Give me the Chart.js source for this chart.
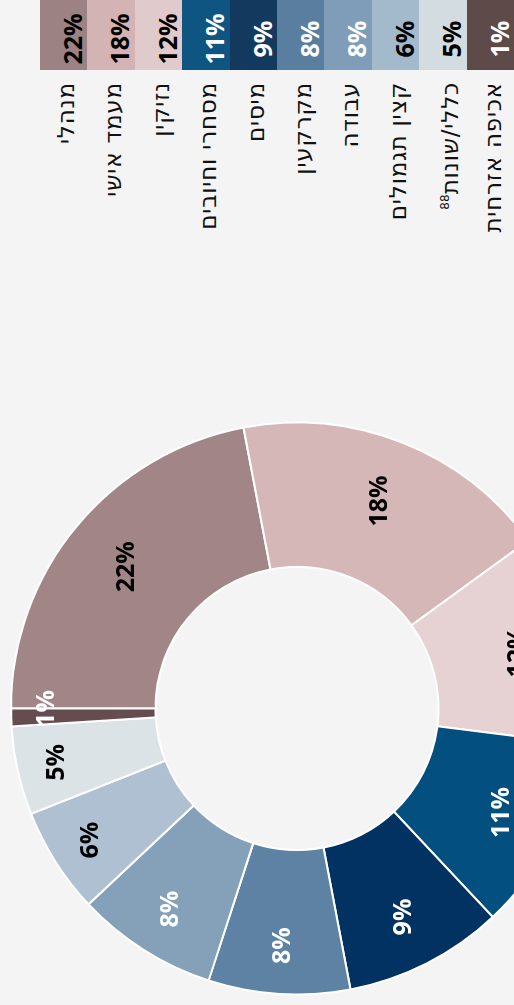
<!DOCTYPE html>
<html>
<head>
<meta charset="utf-8">
<script src="https://cdn.jsdelivr.net/npm/chart.js@4.4.1/dist/chart.umd.min.js"></script>
<style>
    html, body { margin: 0; padding: 0; background: #f4f4f4; width: 514px; height: 1005px; overflow: hidden; }
    /* the chart is laid out landscape and then turned on its side */
    #stage {
        position: absolute; left: 0; top: 0; width: 1005px; height: 514px; overflow: hidden;
        transform-origin: 0 0; transform: translateY(1005px) rotate(-90deg);
        background: #f4f4f4;
    }
    #pie { position: absolute; left: 0; top: 0; width: 600px; height: 600px; }
    .row { position: absolute; right: 0; height: 47.4px; width: 300px; }
    .cell {
        position: absolute; right: 0; top: 0; width: 70px; height: 100%;
        font: bold 25px "Open Sans", sans-serif; text-align: center; box-sizing: border-box;
        padding-right: 8px; padding-top: 9px; line-height: 47.4px;
    }
    .name {
        position: absolute; right: 82px; top: 0; height: 100%; white-space: nowrap;
        font: 23px "DejaVu Sans", sans-serif; color: #111; direction: rtl; letter-spacing: 0.8px;
        line-height: 47.4px; padding-top: 3px;
    }
    .name sup { font-size: 12px; letter-spacing: 0; }
</style>
</head>
<body>
<div id="stage">
    <canvas id="pie" width="600" height="600"></canvas>
    <div id="legend"></div>
</div>
<script>
// categories and shares, in the order they go round the ring
const categories = ["מנהלי", "מעמד אישי", "נזיקין", "מסחרי וחיובים", "מיסים", "מקרקעין", "עבודה", "קצין תגמולים", "כללי/שונות", "אכיפה אזרחית"];
const footnotes = ["", "", "", "", "", "", "", "", "88", ""];
const shares = [22, 18, 12, 11, 9, 8, 8, 6, 5, 1];

const ringColors = ["#a28687", "#d6b7b7", "#e6d1d3", "#024f80", "#013262", "#5d82a3", "#85a1b9", "#aec0d2", "#dbe3e7", "#654c4e"];
const boxColors = ["#9c8283", "#d3b3b3", "#e0cacb", "#0e5582", "#14395f", "#5a7e9f", "#7f9db8", "#a3b9cc", "#d3dce0", "#5f4a4a"];
const textColors = ["#000", "#000", "#000", "#fff", "#fff", "#fff", "#fff", "#000", "#000", "#fff"];

// percent text on each slice; narrow slices get their text pushed further out
const sliceLabels = {
    id: "sliceLabels",
    afterDatasetsDraw(c) {
        const ctx = c.ctx;
        const meta = c.getDatasetMeta(0);
        ctx.save();
        ctx.font = "bold 25px 'Open Sans', sans-serif";
        ctx.textAlign = "center";
        ctx.textBaseline = "middle";
        meta.data.forEach((arc, i) => {
            const p = arc.getProps(["x", "y", "startAngle", "endAngle", "innerRadius", "outerRadius"], true);
            const tiny = shares[i] < 2;
            const ang = tiny ? p.endAngle : (p.startAngle + p.endAngle) / 2;
            const k = (shares[i] - 5) / 4;
            const frac = tiny ? 0.76 : 0.55 + 0.18 / (1 + k * k);
            const r = p.innerRadius + (p.outerRadius - p.innerRadius) * frac;
            ctx.fillStyle = textColors[i];
            ctx.fillText(shares[i] + "%", p.x + r * Math.cos(ang), p.y + r * Math.sin(ang) + 1);
        });
        ctx.restore();
    }
};

new Chart(document.getElementById("pie"), {
    type: "doughnut",
    data: {
        labels: categories,
        datasets: [{
            data: shares,
            backgroundColor: ringColors,
            borderColor: "#ffffff",
            borderWidth: 2,
            hoverOffset: 0
        }]
    },
    options: {
        responsive: false,
        animation: false,
        cutout: "49.5%",
        layout: { padding: { left: 9.5, top: 10, right: 16.5, bottom: 16 } },
        plugins: { legend: { display: false }, tooltip: { enabled: false } }
    },
    plugins: [sliceLabels]
});

// key on the right: coloured box with the share, name to its left
const legend = document.getElementById("legend");
categories.forEach((name, i) => {
    const row = document.createElement("div");
    row.className = "row";
    row.style.top = (40 + i * 47.4) + "px";
    const cell = document.createElement("div");
    cell.className = "cell";
    cell.style.background = boxColors[i];
    cell.style.color = textColors[i];
    cell.textContent = shares[i] + "%";
    const label = document.createElement("div");
    label.className = "name";
    label.innerHTML = name + (footnotes[i] ? "<sup>" + footnotes[i] + "</sup>" : "");
    row.appendChild(cell);
    row.appendChild(label);
    legend.appendChild(row);
});
</script>
</body>
</html>
